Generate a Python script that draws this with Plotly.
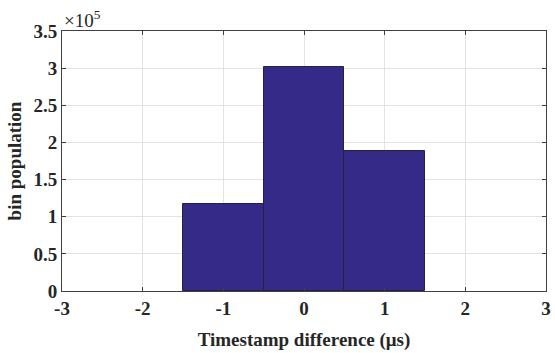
import plotly.graph_objects as go

bin_centers = [-1, 0, 1]
bin_counts = [117000, 301000, 188000]
x_ticks = [-3, -2, -1, 0, 1, 2, 3]
y_ticks = [0, 50000, 100000, 150000, 200000, 250000, 300000, 350000]
y_tick_labels = ["0", "0.5", "1", "1.5", "2", "2.5", "3", "3.5"]

font_fam = "Liberation Serif"

fig = go.Figure()
fig.add_trace(go.Bar(
    x=bin_centers, y=bin_counts, width=1,
    marker=dict(color="#352a87", line=dict(color="#222244", width=1)),
))

fig.update_layout(
    width=555, height=353,
    margin=dict(l=62, r=9, t=31, b=62),
    plot_bgcolor="white", paper_bgcolor="white",
    showlegend=False, bargap=0,
    font=dict(family=font_fam, size=19, color="#262626"),
)
fig.update_xaxes(
    range=[-3, 3], tickvals=x_ticks, ticktext=[str(v) for v in x_ticks],
    showgrid=True, gridcolor="#e3e3e3", gridwidth=1,
    showline=True, linecolor="#404040", linewidth=1, mirror="ticks",
    ticks="inside", ticklen=4, tickcolor="#404040",
    tickfont=dict(family=font_fam, size=19, color="#262626", weight="bold"),
    title=dict(text="<b>Timestamp difference (μs)</b>", font=dict(family=font_fam, size=19, color="#262626"), standoff=14),
    zeroline=False, automargin=False,
)
fig.update_yaxes(
    range=[0, 350000], tickvals=y_ticks, ticktext=y_tick_labels,
    showgrid=True, gridcolor="#e3e3e3", gridwidth=1,
    showline=True, linecolor="#404040", linewidth=1, mirror="ticks",
    ticks="inside", ticklen=4, tickcolor="#404040",
    tickfont=dict(family=font_fam, size=19, color="#262626", weight="bold"),
    title=dict(text="<b>bin population</b>", font=dict(family=font_fam, size=19, color="#262626"), standoff=6),
    zeroline=False, automargin=False,
)
fig.add_annotation(
    x=0, y=1, xref="paper", yref="paper", xanchor="left", yanchor="bottom",
    text="×10<sup>5</sup>", showarrow=False,
    font=dict(family=font_fam, size=19, color="#262626"), yshift=-2,
)
fig.write_html("out.html", config={"displayModeBar": False},
               post_script="document.body.style.margin='0';document.body.style.overflow='hidden';")
